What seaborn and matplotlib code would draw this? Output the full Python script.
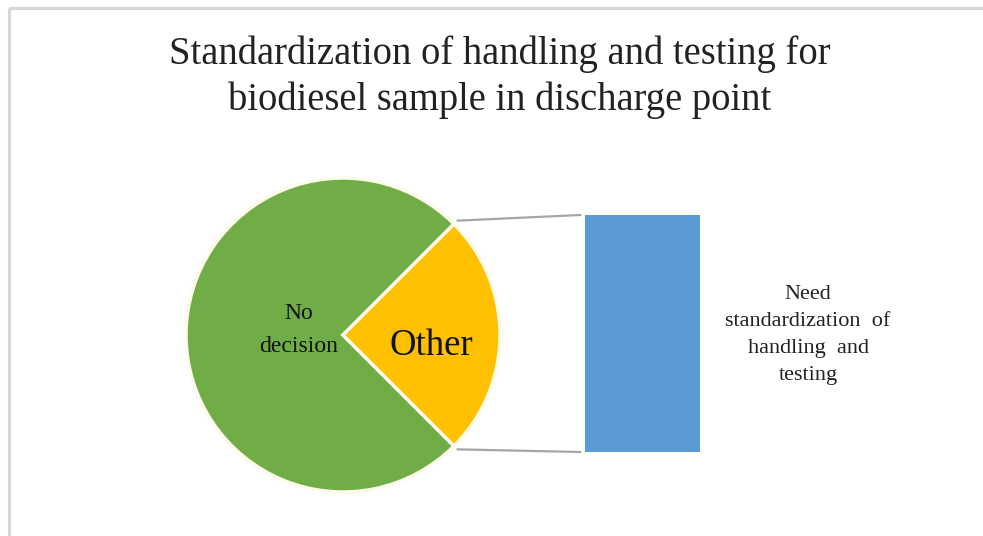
import matplotlib
matplotlib.use("Agg")
import matplotlib.pyplot as plt
import seaborn as sns
import pandas as pd
import numpy as np
from matplotlib.patches import ConnectionPatch, Rectangle

sns.set_theme(style="white")
plt.rcParams['font.family'] = ['Liberation Serif', 'DejaVu Serif']

title = "Standardization of handling and testing for\nbiodiesel sample in discharge point"
pie_labels = ["No\ndecision", "Other"]
pie_values = [75, 25]
bar_categories = ["Need\nstandardization  of\nhandling  and\ntesting"]
bar_values = [25]

pie_colors = ["#70AD47", "#FFC000"]
bar_color = "#5B9BD5"

W, H = 983, 536
fig = plt.figure(figsize=(W / 100, H / 100), dpi=100)

# border frame (top/left visible)
bg = fig.add_axes([0, 0, 1, 1])
bg.set_xlim(0, W)
bg.set_ylim(H, 0)
bg.axis("off")
bg.add_patch(Rectangle((9, 8), W + 20, H + 20, fill=False, edgecolor="#d6d6d6", lw=2.2))

fig.text(500 / W, 1 - 77 / H, title, ha="center", va="center", fontsize=27.8,
         color="#222222", linespacing=1.3)

# pie
cx, cy, r = 343, 335, 157
pax = fig.add_axes([(cx - r) / W, (H - cy - r) / H, 2 * r / W, 2 * r / H])
wedges, _ = pax.pie(pie_values, colors=pie_colors, startangle=45, radius=1,
                    wedgeprops=dict(edgecolor="#FFFBEA", linewidth=2.5))
pax.set_xlim(-1, 1)
pax.set_ylim(-1, 1)
pax.text(-0.28, 0.03, pie_labels[0], ha="center", va="center", fontsize=17,
         color="#111111", linespacing=1.75)
pax.text(0.56, -0.07, pie_labels[1], ha="center", va="center", fontsize=26.5,
         color="#111111")

# bar
bx0, bx1, by0, by1 = 585, 700, 215, 452
bax = fig.add_axes([bx0 / W, (H - by1) / H, (bx1 - bx0) / W, (by1 - by0) / H])
df = pd.DataFrame({"cat": bar_categories, "val": bar_values})
sns.barplot(data=df, x="cat", y="val", ax=bax, color=bar_color, width=1.0,
            saturation=1, edgecolor="none")
bax.set_xlim(-0.5, 0.5)
bax.set_ylim(0, sum(bar_values))
bax.axis("off")

fig.text(808 / W, 1 - 335 / H, bar_categories[0], ha="center", va="center",
         fontsize=16, color="#222222", linespacing=1.55)

# connector lines
a = np.deg2rad(45)
for sgn, yb in [(1, 1.0), (-1, 0.0)]:
    con = ConnectionPatch(xyA=(np.cos(a) * 1.03, sgn * np.sin(a) * 1.03), coordsA=pax.transData,
                          xyB=(-0.04, yb), coordsB=bax.transAxes,
                          color="#a6a6a6", lw=1.6)
    fig.add_artist(con)

fig.savefig("out.png", dpi=100, facecolor="white")
